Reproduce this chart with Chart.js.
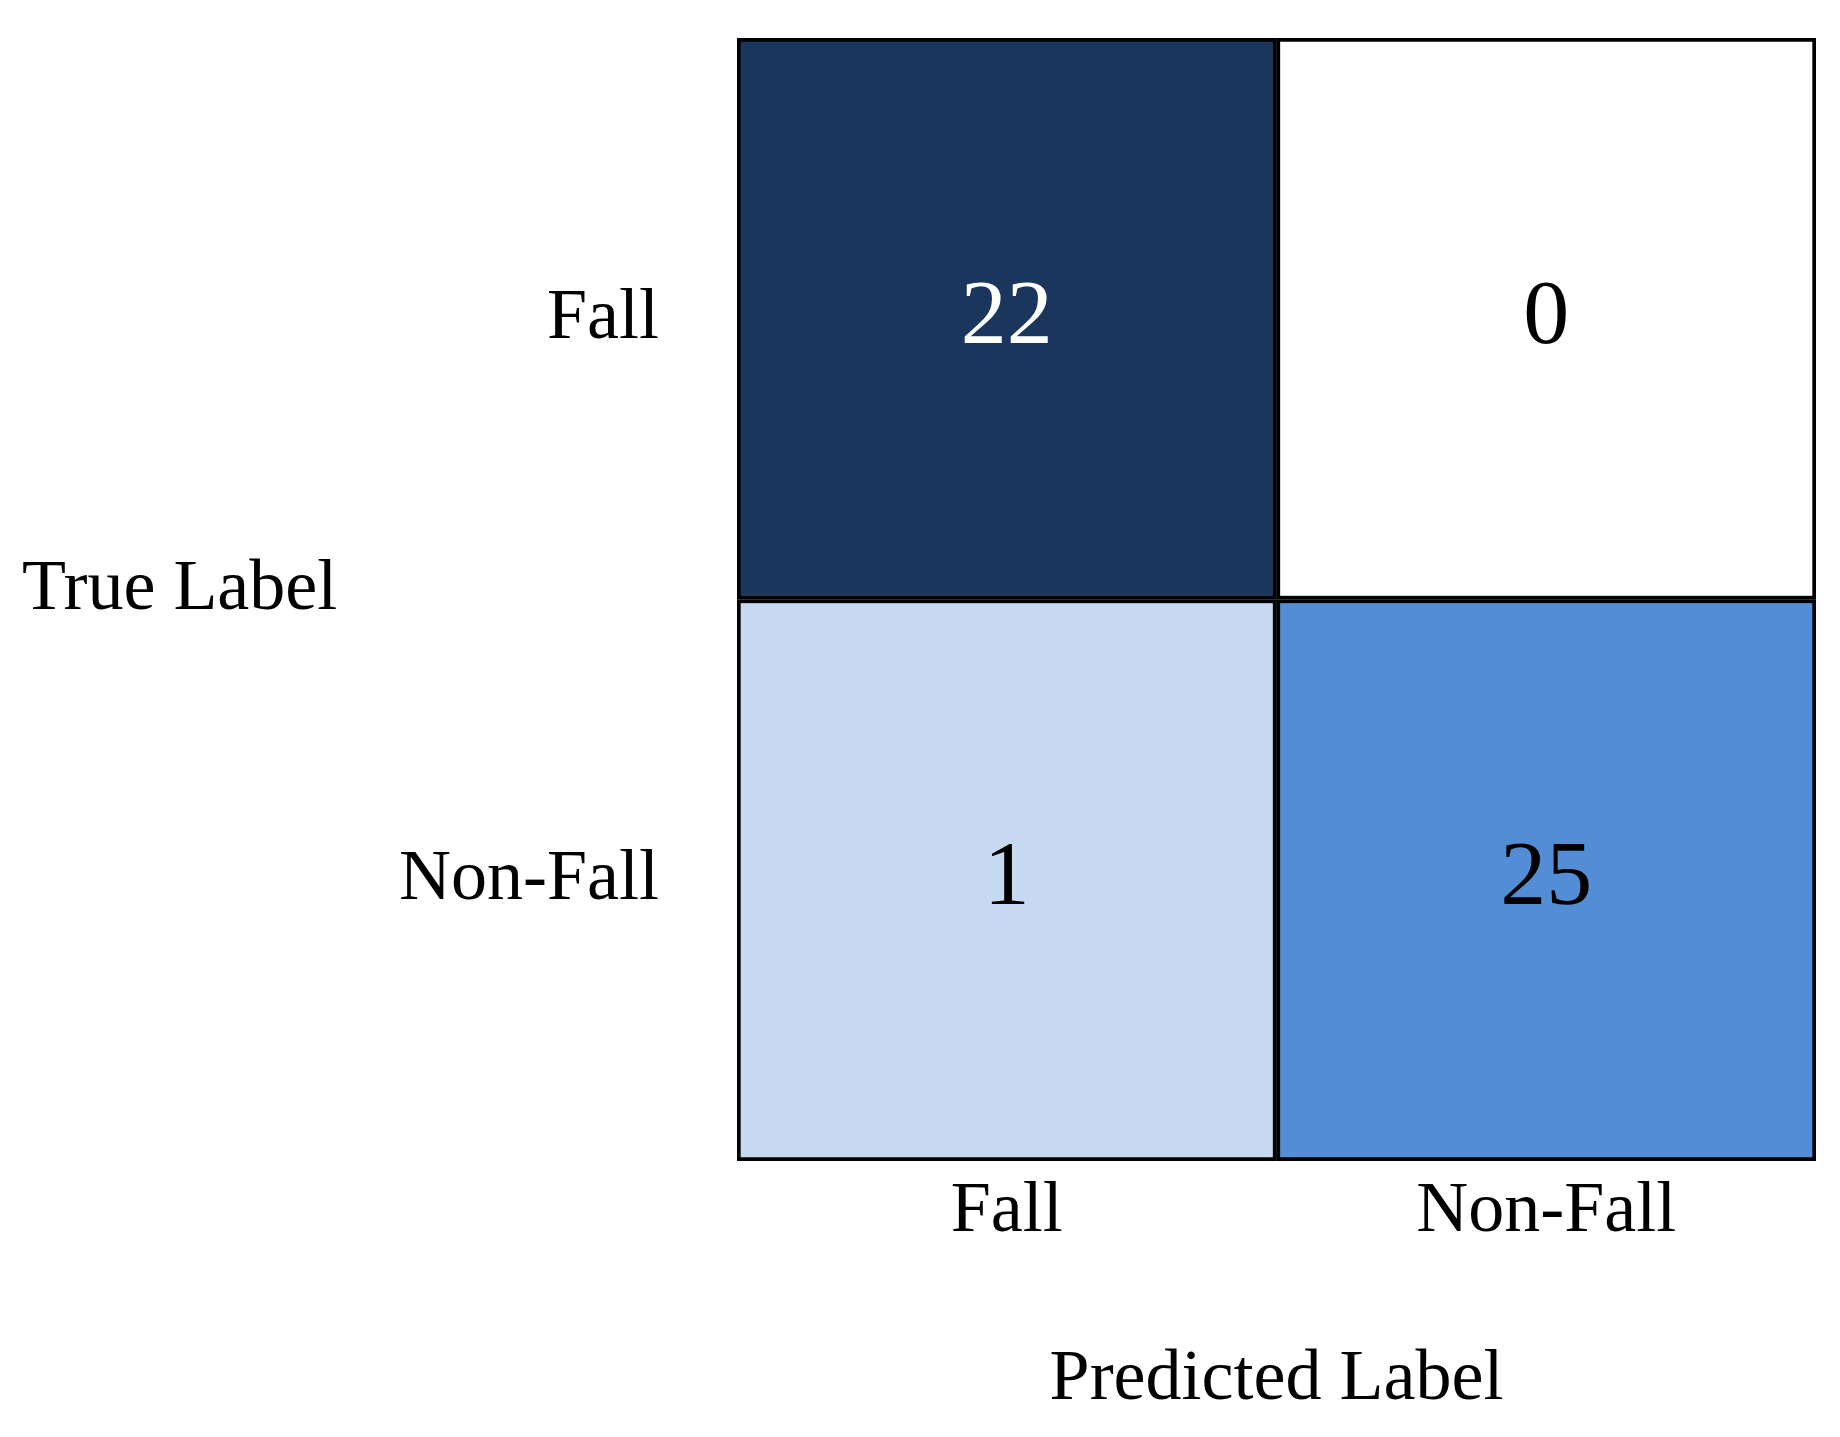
<!DOCTYPE html>
<html>
<head>
<meta charset="utf-8">
<script src="https://cdn.jsdelivr.net/npm/chart.js@4/dist/chart.umd.min.js"></script>
<style>
  html, body { margin: 0; background: #fff; }
  #wrap { width: 1840px; height: 1437px; }
</style>
</head>
<body>
<div id="wrap"><canvas id="c"></canvas></div>
<script>
// confusion matrix: rows = true label, cols = predicted label
const predictedLabels = ['Fall', 'Non-Fall'];
const trueLabels = ['Fall', 'Non-Fall'];
const rowFall = [22, 0];
const rowNonFall = [1, 25];
const rowFallColors = ['#1b365d', '#ffffff'];
const rowNonFallColors = ['#c6d9f0', '#538dd5'];
const FONT = '"Liberation Serif", "DejaVu Serif", serif';

/** Write the counts in the middle of each cell, plus the horizontal y title */
const cellText = {
  id: 'cellText',
  afterDatasetsDraw(chart) {
    const ctx = chart.ctx;
    ctx.save();
    ctx.font = '92px ' + FONT;
    ctx.textAlign = 'center';
    ctx.textBaseline = 'middle';
    chart.data.datasets.forEach((ds, di) => {
      chart.getDatasetMeta(di).data.forEach((bar, i) => {
        ctx.fillStyle = ds.counts[i] === 22 ? '#ffffff' : '#000000';
        ctx.fillText(String(ds.counts[i]), bar.x, (bar.y + bar.base) / 2);
      });
    });
    ctx.font = '72px ' + FONT;
    ctx.textAlign = 'left';
    ctx.fillStyle = '#000';
    ctx.fillText('True Label', 22, 590);
    ctx.restore();
  }
};

new Chart(document.getElementById('c'), {
  type: 'bar',
  data: {
    labels: predictedLabels,
    datasets: [
      { label: trueLabels[1], counts: rowNonFall, data: rowNonFall.map(() => 1),
        backgroundColor: rowNonFallColors, borderColor: '#000', borderWidth: 4, borderSkipped: false },
      { label: trueLabels[0], counts: rowFall, data: rowFall.map(() => 1),
        backgroundColor: rowFallColors, borderColor: '#000', borderWidth: 4, borderSkipped: false }
    ]
  },
  options: {
    responsive: true,
    maintainAspectRatio: false,
    animation: false,
    barPercentage: 1,
    categoryPercentage: 1,
    layout: { padding: { top: 38, right: 24, left: 0, bottom: 10 } },
    scales: {
      x: {
        stacked: true,
        grid: { display: false },
        border: { display: false },
        ticks: { color: '#000', font: { family: FONT, size: 72 }, padding: 0 },
        title: { display: true, text: 'Predicted Label', color: '#000', font: { family: FONT, size: 72 }, padding: { top: 60 } },
        afterFit: s => { s.height = 266; s.paddingLeft = 0; s.paddingRight = 0; }
      },
      y: {
        stacked: true,
        min: 0, max: 2,
        grid: { display: false },
        border: { display: false },
        ticks: {
          stepSize: 0.5,
          color: '#000',
          font: { family: FONT, size: 72 },
          padding: 70,
          callback: v => v === 1.5 ? trueLabels[0] : (v === 0.5 ? trueLabels[1] : '')
        },
        afterFit: s => { s.width = 737; s.paddingTop = 0; s.paddingBottom = 0; }
      }
    },
    plugins: {
      legend: { display: false },
      tooltip: { enabled: false }
    }
  },
  plugins: [cellText]
});
</script>
</body>
</html>
